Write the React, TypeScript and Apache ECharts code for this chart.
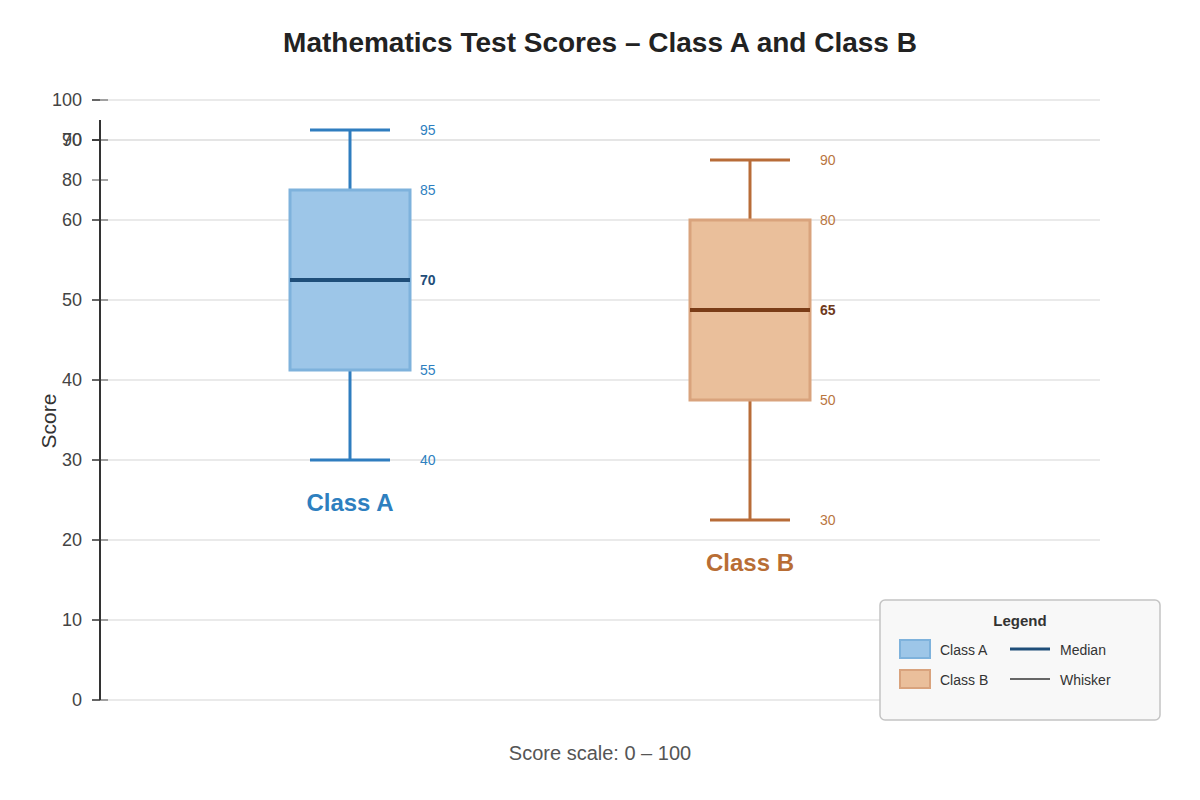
import React, { useEffect, useRef } from "react";
import * as echarts from "echarts";

// ---- data ----
const classNames = ["Class A", "Class B"];
const classPositions = [2.5, 6.5];
const minValues = [40, 30];
const q1Values = [55, 50];
const medianValues = [70, 65];
const q3Values = [85, 80];
const maxValues = [95, 90];

const tickLabels = ["0", "10", "20", "30", "40", "50", "60", "80", "90", "70", "100"];
const tickValues = [0, 13.333, 26.667, 40, 53.333, 66.667, 80, 86.667, 93.333, 93.333, 100];
const tickHasGrid = [true, true, true, true, true, true, true, false, true, true, true];
const axisLineTop = 96.667;

const titleText = "Mathematics Test Scores \u2013 Class A and Class B";
const yName = "Score";
const footerText = "Score scale: 0 \u2013 100";

// ---- styles ----
const FONT = "'Liberation Sans', Arial, Helvetica, sans-serif";
const boxFill = ["#9dc6e8", "#eabf9b"];
const boxStroke = ["#7eb2dc", "#d9a37d"];
const whiskerColor = ["#2f7dbf", "#b86c38"];
const medianColor = ["#1f4e79", "#7a3c17"];
const labelColor = ["#2e7fbf", "#b9763f"];
const medianLabelColor = ["#1f4e79", "#6e3a1c"];
const classLabelColor = ["#2e7fbf", "#b86d34"];

export default function App() {
  const ref = useRef<HTMLDivElement>(null);

  useEffect(() => {
    document.body.style.margin = "0";
    if (!ref.current) return;
    const chart = echarts.init(ref.current, undefined, { renderer: "svg" });

    const tickData = tickValues.map((v, i) => [0, v, i]);
    const boxData = classNames.map((_, i) => [
      classPositions[i],
      minValues[i],
      q1Values[i],
      medianValues[i],
      q3Values[i],
      maxValues[i],
      i,
    ]);

    const option: any = {
      animation: false,
      backgroundColor: "#ffffff",
      title: {
        text: titleText,
        left: "center",
        top: 23,
        textStyle: { fontFamily: FONT, fontSize: 28, fontWeight: "bold", color: "#222222" },
      },
      grid: { left: 100, right: 100, top: 100, bottom: 100 },
      xAxis: {
        type: "value",
        min: 0,
        max: 10,
        show: false,
      },
      yAxis: {
        type: "value",
        min: 0,
        max: 100,
        show: false,
      },
      series: [
        {
          type: "custom",
          name: "axis",
          clip: false,
          silent: true,
          z: 1,
          data: tickData,
          renderItem: (params: any, api: any) => {
            const i = api.value(2);
            const cs = params.coordSys;
            const p = api.coord([0, api.value(1)]);
            const y = p[1];
            const ax = cs.x;
            const children: any[] = [];
            if (tickHasGrid[i]) {
              children.push({
                type: "line",
                shape: { x1: ax, y1: y, x2: cs.x + cs.width, y2: y },
                style: { stroke: "#e3e3e3", lineWidth: 1.5 },
              });
              children.push({
                type: "line",
                shape: { x1: ax, y1: y, x2: ax + 8, y2: y },
                style: { stroke: "#888888", lineWidth: 1.5 },
              });
              children.push({
                type: "line",
                shape: { x1: ax - 8, y1: y, x2: ax, y2: y },
                style: { stroke: "#333333", lineWidth: 1.5 },
              });
            } else {
              children.push({
                type: "line",
                shape: { x1: ax - 8, y1: y, x2: ax + 8, y2: y },
                style: { stroke: "#888888", lineWidth: 1.5 },
              });
            }
            children.push({
              type: "text",
              x: ax - 18,
              y: y,
              style: {
                text: tickLabels[i],
                fill: "#444444",
                font: `18px ${FONT}`,
                align: "right",
                verticalAlign: "middle",
              },
            });
            if (i === 0) {
              const top = api.coord([0, axisLineTop]);
              children.push({
                type: "line",
                z2: 10,
                shape: { x1: ax, y1: top[1], x2: ax, y2: y },
                style: { stroke: "#333333", lineWidth: 2 },
              });
            }
            return { type: "group", children };
          },
        },
        {
          type: "custom",
          name: "boxes",
          clip: false,
          z: 5,
          data: boxData,
          renderItem: (params: any, api: any) => {
            const i = api.value(6);
            const xv = api.value(0);
            const pMin = api.coord([xv, api.value(1)]);
            const pQ1 = api.coord([xv, api.value(2)]);
            const pMed = api.coord([xv, api.value(3)]);
            const pQ3 = api.coord([xv, api.value(4)]);
            const pMax = api.coord([xv, api.value(5)]);
            const cx = pMin[0];
            const boxW = api.size([1.2, 0])[0];
            const capW = api.size([0.8, 0])[0];
            const left = cx - boxW / 2;
            const right = cx + boxW / 2;
            const wStyle = { stroke: whiskerColor[i], lineWidth: 3 };
            const labelX = right + 10;
            const numLabel = (val: number, y: number, bold: boolean) => ({
              type: "text",
              x: labelX,
              y,
              style: {
                text: String(val),
                fill: bold ? medianLabelColor[i] : labelColor[i],
                font: `${bold ? "bold " : ""}14px ${FONT}`,
                align: "left",
                verticalAlign: "middle",
              },
            });
            return {
              type: "group",
              children: [
                { type: "line", shape: { x1: cx, y1: pMax[1], x2: cx, y2: pQ3[1] }, style: wStyle },
                { type: "line", shape: { x1: cx, y1: pQ1[1], x2: cx, y2: pMin[1] }, style: wStyle },
                { type: "line", shape: { x1: cx - capW / 2, y1: pMax[1], x2: cx + capW / 2, y2: pMax[1] }, style: wStyle },
                { type: "line", shape: { x1: cx - capW / 2, y1: pMin[1], x2: cx + capW / 2, y2: pMin[1] }, style: wStyle },
                {
                  type: "rect",
                  shape: { x: left, y: pQ3[1], width: boxW, height: pQ1[1] - pQ3[1] },
                  style: { fill: boxFill[i], stroke: boxStroke[i], lineWidth: 3 },
                },
                {
                  type: "line",
                  shape: { x1: left, y1: pMed[1], x2: right, y2: pMed[1] },
                  style: { stroke: medianColor[i], lineWidth: 4 },
                },
                numLabel(api.value(5), pMax[1], false),
                numLabel(api.value(4), pQ3[1], false),
                numLabel(api.value(3), pMed[1], true),
                numLabel(api.value(2), pQ1[1], false),
                numLabel(api.value(1), pMin[1], false),
                {
                  type: "text",
                  x: cx,
                  y: pMin[1] + 42,
                  style: {
                    text: classNames[i],
                    fill: classLabelColor[i],
                    font: `bold 24px ${FONT}`,
                    align: "center",
                    verticalAlign: "middle",
                  },
                },
              ],
            };
          },
        },
      ],
      graphic: [
        {
          type: "text",
          x: 48,
          y: 421,
          rotation: Math.PI / 2,
          z: 100,
          style: {
            text: yName,
            fill: "#333333",
            font: `21px ${FONT}`,
            align: "center",
            verticalAlign: "middle",
          },
        },
        {
          type: "text",
          x: 600,
          y: 753,
          z: 100,
          style: {
            text: footerText,
            fill: "#555555",
            font: `20px ${FONT}`,
            align: "center",
            verticalAlign: "middle",
          },
        },
        {
          type: "group",
          x: 880,
          y: 600,
          z: 100,
          children: [
            {
              type: "rect",
              z: 100,
              shape: { x: 0, y: 0, width: 280, height: 120, r: 5 },
              style: { fill: "#f8f8f8", stroke: "#c4c4c4", lineWidth: 1.5 },
            },
            {
              type: "text",
              z: 101,
              x: 140,
              y: 20,
              style: { text: "Legend", fill: "#333333", font: `bold 15px ${FONT}`, align: "center", verticalAlign: "middle" },
            },
            {
              type: "rect",
              z: 101,
              shape: { x: 20, y: 40, width: 30, height: 18 },
              style: { fill: boxFill[0], stroke: boxStroke[0], lineWidth: 2 },
            },
            {
              type: "text",
              z: 101,
              x: 60,
              y: 50,
              style: { text: classNames[0], fill: "#333333", font: `14px ${FONT}`, align: "left", verticalAlign: "middle" },
            },
            {
              type: "line",
              z: 101,
              shape: { x1: 130, y1: 49, x2: 170, y2: 49 },
              style: { stroke: medianColor[0], lineWidth: 3 },
            },
            {
              type: "text",
              z: 101,
              x: 180,
              y: 50,
              style: { text: "Median", fill: "#333333", font: `14px ${FONT}`, align: "left", verticalAlign: "middle" },
            },
            {
              type: "rect",
              z: 101,
              shape: { x: 20, y: 70, width: 30, height: 18 },
              style: { fill: boxFill[1], stroke: boxStroke[1], lineWidth: 2 },
            },
            {
              type: "text",
              z: 101,
              x: 60,
              y: 80,
              style: { text: classNames[1], fill: "#333333", font: `14px ${FONT}`, align: "left", verticalAlign: "middle" },
            },
            {
              type: "line",
              z: 101,
              shape: { x1: 130, y1: 79, x2: 170, y2: 79 },
              style: { stroke: "#666666", lineWidth: 2 },
            },
            {
              type: "text",
              z: 101,
              x: 180,
              y: 80,
              style: { text: "Whisker", fill: "#333333", font: `14px ${FONT}`, align: "left", verticalAlign: "middle" },
            },
          ],
        },
      ],
    };

    chart.setOption(option);
    return () => chart.dispose();
  }, []);

  return <div ref={ref} style={{ width: 1200, height: 800 }} />;
}
